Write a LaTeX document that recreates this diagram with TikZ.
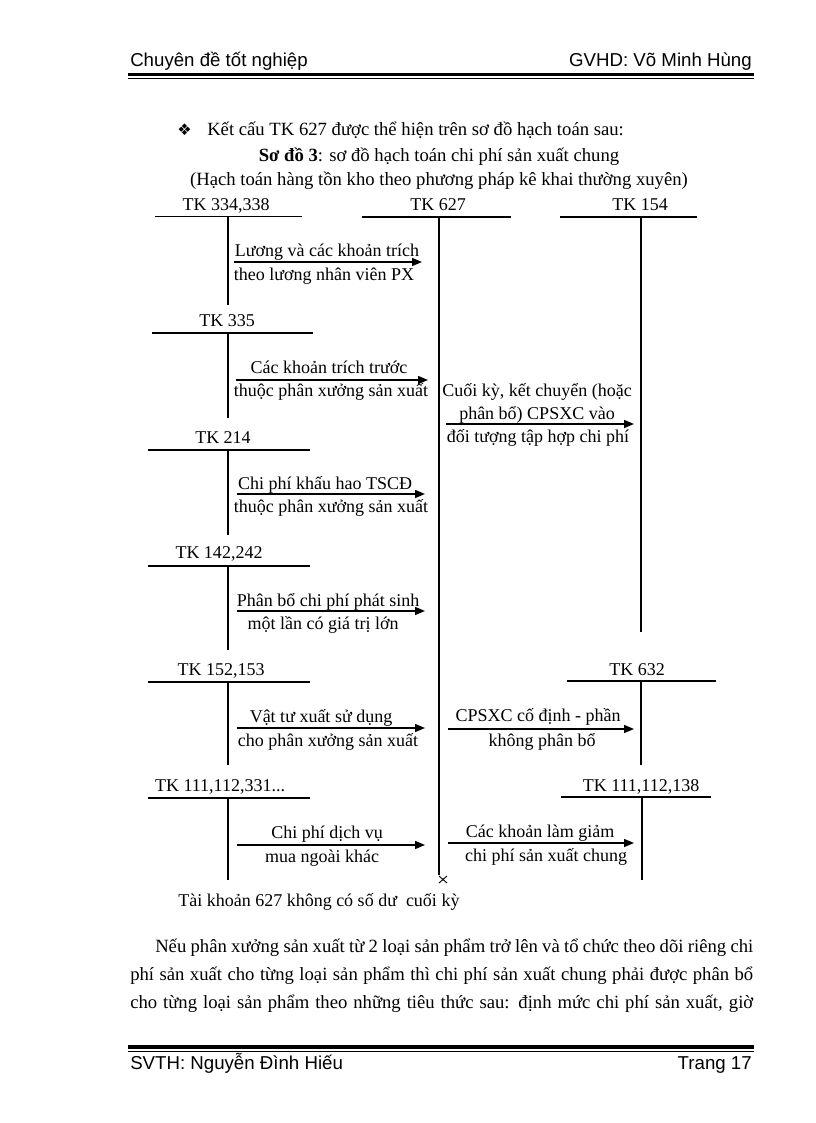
\documentclass[tikz,border=0pt]{standalone}
\usepackage{fontspec}
\setmainfont{Liberation Serif}
\newfontfamily\headfont{Liberation Sans}
\newfontfamily\symfont{DejaVu Sans}
\usetikzlibrary{arrows.meta}

\tikzset{
  txt/.style={anchor=base, inner sep=0pt, font=\fontsize{14}{16}\selectfont},
  lbl/.style={anchor=base, inner sep=0pt, font=\fontsize{13.5}{16}\selectfont},
  acct/.style={line width=0.9pt},
  acctbold/.style={line width=1.7pt},
  flow/.style={line width=1.1pt, -{Triangle[length=7.5pt,width=6pt]}},
}

\begin{document}
\begin{tikzpicture}[x=0.75pt,y=-0.75pt]
			\useasboundingbox [fill=white] (0,0) rectangle (816,1123);
			% header and footer
			\node [txt, anchor=base west, font=\headfont\fontsize{14}{16}\selectfont] (head-l) at (130,67) {Chuyên đề tốt nghiệp};
			\node [txt, anchor=base east, font=\headfont\fontsize{14}{16}\selectfont] (head-r) at (752,67) {GVHD: Võ Minh Hùng};
			\draw [line width=2.5pt] (128,74.5)--(754,74.5);
			\draw [line width=0.7pt] (128,78.5)--(754,78.5);
			\draw [line width=2.5pt] (128,1047)--(754,1047);
			\draw [line width=0.7pt] (128,1051)--(754,1051);
			\node [txt, anchor=base west, font=\headfont\fontsize{14}{16}\selectfont] (foot-l) at (130,1069) {SVTH: Nguyễn Đình Hiếu};
			\node [txt, anchor=base east, font=\headfont\fontsize{14}{16}\selectfont] (foot-r) at (752,1069) {Trang 17};

			% titles
			\node [txt, anchor=base west, font=\symfont\fontsize{12}{14}\selectfont] (bullet) at (177,136) {❖};
			\node [txt, anchor=base west] (intro) at (207,136) {Kết cấu TK 627 được thể hiện trên sơ đồ hạch toán sau:};
			\node [txt] (title) at (439,162) {\textbf{Sơ đồ 3}: sơ đồ hạch toán chi phí sản xuất chung};
			\node [txt] (subtitle) at (439,186) {(Hạch toán hàng tồn kho theo phương pháp kê khai thường xuyên)};

			% T accounts, left column
			\node [lbl] (tk334) at (226,210) {TK 334,338};
			\draw [acct] (155,216.5)--(302,216.5);
			\draw [acct] (228,216.5)--(228,305);
			\node [lbl] (tk335) at (227,326) {TK 335};
			\draw [acct] (152,333)--(313,333);
			\draw [acct] (228,333)--(228,418);
			\node [lbl] (tk214) at (223,443) {TK 214};
			\draw [acct] (148,450)--(310,450);
			\draw [acct] (228,450)--(228,535);
			\node [lbl] (tk142) at (219,558) {TK 142,242};
			\draw [acct] (148,566)--(310,566);
			\draw [acct] (228,566)--(228,650);
			\node [lbl] (tk152) at (221,675) {TK 152,153};
			\draw [acct] (148,682)--(310,682);
			\draw [acct] (228,682)--(228,765);
			\node [lbl] (tk111) at (220,791) {TK 111,112,331...};
			\draw [acct] (148,798)--(310,798);
			\draw [acct] (228,798)--(228,880);

			% TK 627
			\node [lbl] (tk627) at (438,210) {TK 627};
			\draw [acctbold] (362,217)--(511,217);
			\draw [line width=1.3pt] (439,217)--(439,875);
			\draw [line width=0.7pt] (439,876)--(447,883);
			\draw [line width=0.7pt] (447,876)--(439,883);

			% T accounts, right column
			\node [lbl] (tk154) at (640,210) {TK 154};
			\draw [acctbold] (560,217)--(697,217);
			\draw [acctbold] (641,217)--(641,632);
			\node [lbl] (tk632) at (637,675) {TK 632};
			\draw [line width=1.3pt] (567,681)--(716,681);
			\draw [line width=1.3pt] (641,681)--(641,765);
			\node [lbl] (tk138) at (641,791) {TK 111,112,138};
			\draw [acct] (561,797)--(711,797);
			\draw [line width=1.1pt] (642,797)--(642,880);

			% flows into TK 627
			\coordinate (a1s) at (234,262); \coordinate (a1e) at (422,262);
			\coordinate (a2s) at (236,380); \coordinate (a2e) at (428,380);
			\coordinate (a3s) at (237,494); \coordinate (a3e) at (425,494);
			\coordinate (a4s) at (237,611); \coordinate (a4e) at (425,611);
			\coordinate (a5s) at (237,728); \coordinate (a5e) at (425,728);
			\coordinate (a6s) at (237,845); \coordinate (a6e) at (425,845);
			\draw [flow] (a1s)--(a1e);
			\draw [flow] (a2s)--(a2e);
			\draw [flow] (a3s)--(a3e);
			\draw [flow] (a4s)--(a4e);
			\draw [flow] (a5s)--(a5e);
			\draw [flow] (a6s)--(a6e);
			\node [lbl] (l1a) at (327,256) {Lương và các khoản trích};
			\node [lbl] (l1b) at (324,280) {theo lương nhân viên PX};
			\node [lbl] (l2a) at (329,373) {Các khoản trích trước};
			\node [lbl] (l2b) at (331,396) {thuộc phân xưởng sản xuất};
			\node [lbl] (l3a) at (325,489) {Chi phí khấu hao TSCĐ};
			\node [lbl] (l3b) at (331,512) {thuộc phân xưởng sản xuất};
			\node [lbl] (l4a) at (328,606) {Phân bổ chi phí phát sinh};
			\node [lbl] (l4b) at (323,629) {một lần có giá trị lớn};
			\node [lbl] (l5a) at (321,722) {Vật tư xuất sử dụng};
			\node [lbl] (l5b) at (328,746) {cho phân xưởng sản xuất};
			\node [lbl] (l6a) at (327,838) {Chi phí dịch vụ};
			\node [lbl] (l6b) at (322,862) {mua ngoài khác};

			% flows out of TK 627
			\coordinate (b1s) at (446,424); \coordinate (b1e) at (634,424);
			\coordinate (b2s) at (448,729); \coordinate (b2e) at (634,729);
			\coordinate (b3s) at (448,843); \coordinate (b3e) at (634,843);
			\draw [flow] (b1s)--(b1e);
			\draw [flow] (b2s)--(b2e);
			\draw [flow] (b3s)--(b3e);
			\node [lbl] (r1a) at (537,396) {Cuối kỳ, kết chuyển (hoặc};
			\node [lbl] (r1b) at (537,419) {phân bổ) CPSXC vào};
			\node [lbl] (r1c) at (538,442) {đối tượng tập hợp chi phí};
			\node [lbl] (r2a) at (538,721) {CPSXC cố định - phần};
			\node [lbl] (r2b) at (542,746) {không phân bổ};
			\node [lbl] (r3a) at (540,837) {Các khoản làm giảm};
			\node [lbl] (r3b) at (546,861) {chi phí sản xuất chung};

			\node [lbl, anchor=base west] (note) at (178,906) {Tài khoản 627 không có số dư \ cuối kỳ};

			% paragraph
			\node [txt, anchor=base west] (par1) at (155,952) {\makebox[448.5pt][s]{Nếu phân xưởng sản xuất từ 2 loại sản phẩm trở lên và tổ chức theo dõi riêng chi}};
			\node [txt, anchor=base west] (par2) at (130,980) {\makebox[467.25pt][s]{phí sản xuất cho từng loại sản phẩm thì chi phí sản xuất chung phải được phân bổ}};
			\node [txt, anchor=base west] (par3) at (130,1008) {\makebox[467.25pt][s]{cho từng loại sản phẩm theo những tiêu thức sau: định mức chi phí sản xuất, giờ}};
		\end{tikzpicture}
\end{document}
